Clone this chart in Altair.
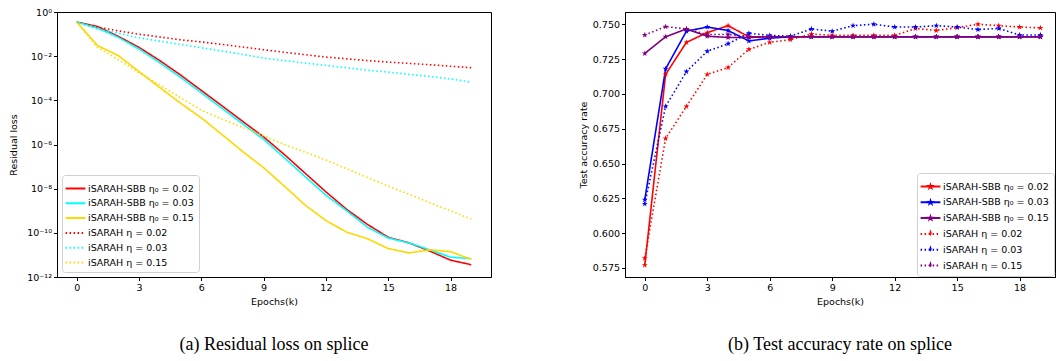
import math
import altair as alt
import pandas as pd

epochs = list(range(20))

# ---------- left panel: residual loss ----------
loss_names = [
    "iSARAH-SBB η₀ = 0.02",
    "iSARAH-SBB η₀ = 0.03",
    "iSARAH-SBB η₀ = 0.15",
    "iSARAH η = 0.02",
    "iSARAH η = 0.03",
    "iSARAH η = 0.15",
]
loss_sbb_002 = [3.5e-1, 2.2e-1, 7.9e-2, 2.5e-2, 6.3e-3, 1.4e-3, 2.8e-4, 5.6e-5, 1.1e-5, 2.2e-6,
                3.5e-7, 5.0e-8, 7.2e-9, 1.15e-9, 2.4e-10, 6.3e-11, 3.5e-11, 1.5e-11, 5.8e-12, 3.6e-12]
loss_sbb_003 = [3.5e-1, 1.9e-1, 7.1e-2, 2.1e-2, 5.0e-3, 1.1e-3, 2.2e-4, 4.3e-5, 8.5e-6, 1.7e-6,
                2.5e-7, 3.5e-8, 5.1e-9, 1.0e-9, 1.8e-10, 5.8e-11, 3.5e-11, 1.7e-11, 7.9e-12, 6.8e-12]
loss_sbb_015 = [3.5e-1, 3.0e-2, 1.07e-2, 2.0e-3, 3.8e-4, 7.4e-5, 1.6e-5, 2.8e-6, 4.7e-7, 8.9e-8,
                1.3e-8, 1.8e-9, 3.6e-10, 1.07e-10, 5.4e-11, 1.95e-11, 1.23e-11, 1.7e-11, 1.4e-11, 6.3e-12]
loss_sarah_002 = [3.5e-1, 2.1e-1, 1.4e-1, 9.8e-2, 7.4e-2, 5.5e-2, 4.4e-2, 3.4e-2, 2.6e-2, 1.95e-2,
                  1.5e-2, 1.17e-2, 9.1e-3, 7.6e-3, 6.3e-3, 5.4e-3, 4.7e-3, 4.1e-3, 3.5e-3, 3.0e-3]
loss_sarah_003 = [3.5e-1, 1.7e-1, 1.1e-1, 6.8e-2, 4.8e-2, 3.4e-2, 2.4e-2, 1.7e-2, 1.2e-2, 8.1e-3,
                  6.3e-3, 4.9e-3, 3.8e-3, 3.0e-3, 2.3e-3, 1.9e-3, 1.5e-3, 1.2e-3, 9.3e-4, 6.6e-4]
loss_sarah_015 = [3.5e-1, 2.5e-2, 6.9e-3, 1.8e-3, 5.0e-4, 1.3e-4, 3.6e-5, 1.4e-5, 5.9e-6, 2.5e-6,
                  1.0e-6, 4.5e-7, 2.0e-7, 7.9e-8, 3.2e-8, 1.3e-8, 5.6e-9, 2.3e-9, 1.0e-9, 4.2e-10]
loss_colors = ["#ff0000", "#00ffff", "#ffd700", "#ff0000", "#00ffff", "#ffd700"]
loss_ticks = [1, 1e-2, 1e-4, 1e-6, 1e-8, 1e-10, 1e-12]
loss_tick_labels = ["10⁰", "10⁻²", "10⁻⁴", "10⁻⁶", "10⁻⁸", "10⁻¹⁰", "10⁻¹²"]

# ---------- right panel: test accuracy ----------
acc_names = [
    "iSARAH-SBB η₀ = 0.02 ",
    "iSARAH-SBB η₀ = 0.03 ",
    "iSARAH-SBB η₀ = 0.15 ",
    "iSARAH η = 0.02 ",
    "iSARAH η = 0.03 ",
    "iSARAH η = 0.15 ",
]
acc_sbb_002 = [0.577, 0.714, 0.737, 0.744, 0.749, 0.741, 0.741, 0.741, 0.741, 0.741,
               0.741, 0.741, 0.741, 0.741, 0.741, 0.741, 0.741, 0.741, 0.741, 0.741]
acc_sbb_003 = [0.624, 0.718, 0.745, 0.748, 0.7455, 0.738, 0.740, 0.741, 0.741, 0.741,
               0.741, 0.741, 0.741, 0.741, 0.741, 0.741, 0.741, 0.741, 0.741, 0.741]
acc_sbb_015 = [0.729, 0.741, 0.7466, 0.7414, 0.7405, 0.7405, 0.741, 0.741, 0.741, 0.741,
               0.741, 0.741, 0.741, 0.741, 0.741, 0.741, 0.741, 0.741, 0.741, 0.741]
acc_sarah_002 = [0.582, 0.668, 0.691, 0.714, 0.719, 0.732, 0.737, 0.739, 0.743, 0.742,
                 0.742, 0.742, 0.742, 0.747, 0.7455, 0.7476, 0.750, 0.749, 0.748, 0.7474]
acc_sarah_003 = [0.621, 0.691, 0.716, 0.7306, 0.736, 0.7435, 0.742, 0.7414, 0.7466, 0.745,
                 0.749, 0.750, 0.748, 0.748, 0.749, 0.748, 0.7462, 0.747, 0.7423, 0.7423]
acc_sarah_015 = [0.7423, 0.7483, 0.7466, 0.7426, 0.7426, 0.741, 0.741, 0.741, 0.741, 0.741,
                 0.741, 0.741, 0.741, 0.741, 0.741, 0.741, 0.741, 0.741, 0.741, 0.741]
acc_colors = ["#ff0000", "#0000ff", "#800080", "#ff0000", "#0000ff", "#800080"]
acc_ticks = [0.575, 0.600, 0.625, 0.650, 0.675, 0.700, 0.725, 0.750]

x_ticks = [0, 3, 6, 9, 12, 15, 18]

dashes = [[1, 0], [1, 0], [1, 0], [1.5, 2.5], [1.5, 2.5], [1.5, 2.5]]

STAR = ("M0,-1L0.2245,-0.309L0.9511,-0.309L0.3633,0.118L0.5878,0.809L0,0.382"
        "L-0.5878,0.809L-0.3633,0.118L-0.9511,-0.309L-0.2245,-0.309Z")
LEG_LINE = "M-1.4,0L1.4,0"
LEG_STAR = ("M-1.4,0L1.4,0M0,-0.18L0.04,-0.056L0.171,-0.056L0.065,0.021L0.106,0.146L0,0.069"
            "L-0.106,0.146L-0.065,0.021L-0.171,-0.056L-0.04,-0.056Z")


def long_df(names, series):
    rows = []
    for name, vals in zip(names, series):
        for e, v in zip(epochs, vals):
            rows.append({"epoch": e, "value": v, "series": name})
    return pd.DataFrame(rows)


loss_df = long_df(loss_names, [loss_sbb_002, loss_sbb_003, loss_sbb_015,
                               loss_sarah_002, loss_sarah_003, loss_sarah_015])
acc_df = long_df(acc_names, [acc_sbb_002, acc_sbb_003, acc_sbb_015,
                             acc_sarah_002, acc_sarah_003, acc_sarah_015])

label_expr = ""
for t, lab in zip(loss_ticks, loss_tick_labels):
    label_expr += f"abs(log(datum.value)/LN10 - ({math.log10(t)})) < 0.1 ? '{lab}' : "
label_expr += "''"

common_legend = dict(
    title=None,
    fillColor="white",
    strokeColor="#d0d0d0",
    cornerRadius=3,
    padding=5,
    labelFont="DejaVu Sans",
    labelFontSize=9.5,
    labelColor="black",
    labelLimit=300,
    rowPadding=1.8,
    symbolSize=200,
    symbolStrokeWidth=2,
)

left = alt.Chart(loss_df).mark_line(strokeWidth=1.6, clip=True).encode(
    x=alt.X("epoch:Q", title="Epochs(k)",
            scale=alt.Scale(domain=[-0.95, 19.95], nice=False, zero=False),
            axis=alt.Axis(values=x_ticks, format="d")),
    y=alt.Y("value:Q", title="Residual loss",
            scale=alt.Scale(type="log", domain=[1e-12, 1], nice=False),
            axis=alt.Axis(values=loss_ticks, labelExpr=label_expr, titlePadding=8)),
    color=alt.Color("series:N", sort=loss_names,
                    scale=alt.Scale(domain=loss_names, range=loss_colors),
                    legend=alt.Legend(orient="bottom-left", symbolType=LEG_LINE, offset=5,
                                      **common_legend)),
    strokeDash=alt.StrokeDash("series:N", sort=loss_names,
                              scale=alt.Scale(domain=loss_names, range=dashes),
                              legend=alt.Legend(orient="bottom-left", symbolType=LEG_LINE, offset=5,
                                                **common_legend)),
).properties(
    width=434, height=265,
    title=alt.TitleParams("(a)  Residual loss on splice", orient="bottom", frame="group",
                          font="Liberation Serif", fontSize=18, fontWeight="normal",
                          offset=30, color="black"),
)

right = alt.Chart(acc_df).mark_line(
    strokeWidth=1.6, clip=True,
    point=alt.OverlayMarkDef(shape=STAR, size=40, filled=True, strokeWidth=0),
).encode(
    x=alt.X("epoch:Q", title="Epochs(k)",
            scale=alt.Scale(domain=[-0.95, 19.7], nice=False, zero=False),
            axis=alt.Axis(values=x_ticks, format="d")),
    y=alt.Y("value:Q", title="Test accuracy rate",
            scale=alt.Scale(domain=[0.5685, 0.7588], nice=False, zero=False),
            axis=alt.Axis(values=acc_ticks, format=".3f")),
    color=alt.Color("series:N", sort=acc_names,
                    scale=alt.Scale(domain=acc_names, range=acc_colors),
                    legend=alt.Legend(orient="bottom-right", symbolType=LEG_STAR, offset=1,
                                      **common_legend)),
    strokeDash=alt.StrokeDash("series:N", sort=acc_names,
                              scale=alt.Scale(domain=acc_names, range=dashes),
                              legend=alt.Legend(orient="bottom-right", symbolType=LEG_STAR, offset=1,
                                                **common_legend)),
).properties(
    width=430, height=265,
    title=alt.TitleParams("(b)  Test accuracy rate on splice", orient="bottom", frame="group",
                          font="Liberation Serif", fontSize=18, fontWeight="normal",
                          offset=30, color="black"),
)

chart = alt.hconcat(left, right, spacing=85).resolve_scale(
    color="independent", strokeDash="independent"
).properties(
    padding={"left": 8, "top": 6, "right": 0, "bottom": 0},
    background="white",
).configure_view(
    stroke="black", strokeWidth=1,
).configure_axis(
    grid=False,
    domainColor="black",
    tickColor="black",
    tickSize=3.5,
    labelFont="DejaVu Sans",
    labelFontSize=9.5,
    labelColor="black",
    labelPadding=2,
    titleFont="DejaVu Sans",
    titleFontSize=9.5,
    titleFontWeight="normal",
    titleColor="black",
    titlePadding=4,
)

chart.save("out.html", embed_options={"renderer": "svg", "actions": False})
